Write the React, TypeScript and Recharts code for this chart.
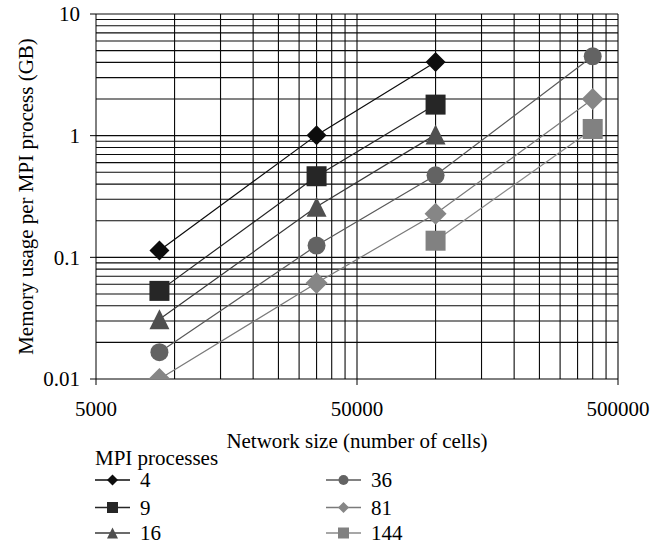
import { LineChart, Line, XAxis, YAxis, ReferenceLine, Legend } from 'recharts'

// network sizes (number of cells)
const sizes = [8750, 35000, 100000, 400000]

// memory per MPI process (GB), one array per process count
const procs4 = [0.114, 1.01, 4.04, null]
const procs9 = [0.053, 0.464, 1.8, null]
const procs16 = [0.031, 0.26, 1.02, null]
const procs36 = [0.0166, 0.125, 0.472, 4.49]
const procs81 = [0.01, 0.0616, 0.228, 2.0]
const procs144 = [null, null, 0.137, 1.135]

const xTicks = [5000, 50000, 500000]
const yTicks = [0.01, 0.1, 1, 10]

const xGrid = [
  10000, 15000, 20000, 25000, 30000, 35000, 40000, 45000, 50000,
  100000, 150000, 200000, 250000, 300000, 350000, 400000, 450000, 500000,
]
const yGrid = [
  0.02, 0.03, 0.04, 0.05, 0.06, 0.07, 0.08, 0.09, 0.1,
  0.2, 0.3, 0.4, 0.5, 0.6, 0.7, 0.8, 0.9, 1,
  2, 3, 4, 5, 6, 7, 8, 9, 10,
]

type Shape = 'diamond' | 'square' | 'triangle' | 'circle'

const series: { key: string; name: string; values: (number | null)[]; shape: Shape; fill: string; stroke: string; size: number }[] = [
  { key: 'p4', name: '4', values: procs4, shape: 'diamond', fill: '#0d0d0d', stroke: '#0d0d0d', size: 10 },
  { key: 'p9', name: '9', values: procs9, shape: 'square', fill: '#262626', stroke: '#262626', size: 10 },
  { key: 'p16', name: '16', values: procs16, shape: 'triangle', fill: '#4f4f4f', stroke: '#3a3a3a', size: 10 },
  { key: 'p36', name: '36', values: procs36, shape: 'circle', fill: '#636363', stroke: '#595959', size: 9 },
  { key: 'p81', name: '81', values: procs81, shape: 'diamond', fill: '#868686', stroke: '#7a7a7a', size: 11 },
  { key: 'p144', name: '144', values: procs144, shape: 'square', fill: '#818181', stroke: '#8a8a8a', size: 10 },
]

const data = sizes.map((x, i) => {
  const row: Record<string, number | null> = { x }
  series.forEach((s) => {
    row[s.key] = s.values[i]
  })
  return row
})

const FONT = '"Liberation Serif", "Times New Roman", serif'
const FS = 21

function Marker({ cx, cy, shape, fill, r }: { cx: number; cy: number; shape: Shape; fill: string; r: number }) {
  if (shape === 'diamond') {
    return <polygon points={`${cx},${cy - r} ${cx + r},${cy} ${cx},${cy + r} ${cx - r},${cy}`} fill={fill} />
  }
  if (shape === 'square') {
    return <rect x={cx - r} y={cy - r} width={r * 2} height={r * 2} fill={fill} />
  }
  if (shape === 'triangle') {
    return <polygon points={`${cx},${cy - r} ${cx + r},${cy + r} ${cx - r},${cy + r}`} fill={fill} />
  }
  return <circle cx={cx} cy={cy} r={r} fill={fill} />
}

function YTitle(props: any) {
  const vb = props.viewBox || { y: 14, height: 365 }
  const cy = vb.y + vb.height / 2
  return (
    <text transform={`translate(33, ${cy}) rotate(-90)`} textAnchor="middle" fontSize={FS} fontFamily={FONT} fill="#000">
      Memory usage per MPI process (GB)
    </text>
  )
}

function LegendBox() {
  const rows = [40, 67.5, 93]
  const cols = [95, 326]
  return (
    <svg width={663} height={104} style={{ display: 'block' }}>
      <text x={95} y={18} dominantBaseline="central" fontSize={FS} fontFamily={FONT} fill="#000">
        MPI processes
      </text>
      {series.map((s, i) => {
        const x0 = cols[Math.floor(i / 3)]
        const y = rows[i % 3]
        return (
          <g key={s.key}>
            <line x1={x0} x2={x0 + 35} y1={y} y2={y} stroke={s.stroke} strokeWidth={1.3} />
            <Marker cx={x0 + 17.5} cy={y} shape={s.shape} fill={s.fill} r={s.shape === 'circle' ? 5 : 5.5} />
            <text x={x0 + 45} y={y} dominantBaseline="central" fontSize={FS} fontFamily={FONT} fill="#000">
              {s.name}
            </text>
          </g>
        )
      })}
    </svg>
  )
}

export default function App() {
  return (
    <div style={{ position: 'absolute', left: 0, top: 0, width: 663, height: 544, background: '#fff', fontFamily: FONT }}>
      <LineChart width={663} height={544} data={data} margin={{ top: 14, right: 45, left: 0, bottom: 135 }}>
        <XAxis
          dataKey="x"
          type="number"
          scale="log"
          domain={[5000, 500000]}
          ticks={xTicks}
          allowDataOverflow
          height={30}
          tickSize={6}
          tickMargin={16}
          stroke="#000"
          tick={{ fill: '#000', fontSize: FS, fontFamily: FONT }}
          label={{ value: 'Network size (number of cells)', position: 'bottom', offset: 24, fill: '#000', fontSize: FS, fontFamily: FONT }}
        />
        <YAxis
          type="number"
          scale="log"
          domain={[0.01, 10]}
          ticks={yTicks}
          allowDataOverflow
          width={96}
          tickSize={6}
          tickMargin={10}
          stroke="#000"
          tickFormatter={(v: number) => String(v)}
          tick={{ fill: '#000', fontSize: FS, fontFamily: FONT }}
          label={<YTitle />}
        />
        {yGrid.map((v) => (
          <ReferenceLine key={`h${v}`} y={v} stroke="#0a0a0a" strokeWidth={1.1} />
        ))}
        {xGrid.map((v) => (
          <ReferenceLine key={`v${v}`} x={v} stroke="#0a0a0a" strokeWidth={1.1} />
        ))}
        <Legend
          layout="horizontal"
          verticalAlign="middle"
          align="center"
          wrapperStyle={{ left: 0, top: 440, width: 663, height: 104 }}
          content={() => <LegendBox />}
        />
        {series.map((s) => (
          <Line
            key={s.key}
            type="linear"
            dataKey={s.key}
            name={s.name}
            stroke={s.stroke}
            strokeWidth={1.2}
            isAnimationActive={false}
            dot={(p: any) =>
              p.value == null || p.cx == null ? (
                <g key={`${s.key}-${p.index}`} />
              ) : (
                <Marker key={`${s.key}-${p.index}`} cx={p.cx} cy={p.cy} shape={s.shape} fill={s.fill} r={s.size} />
              )
            }
            activeDot={false}
          />
        ))}
      </LineChart>
    </div>
  )
}
